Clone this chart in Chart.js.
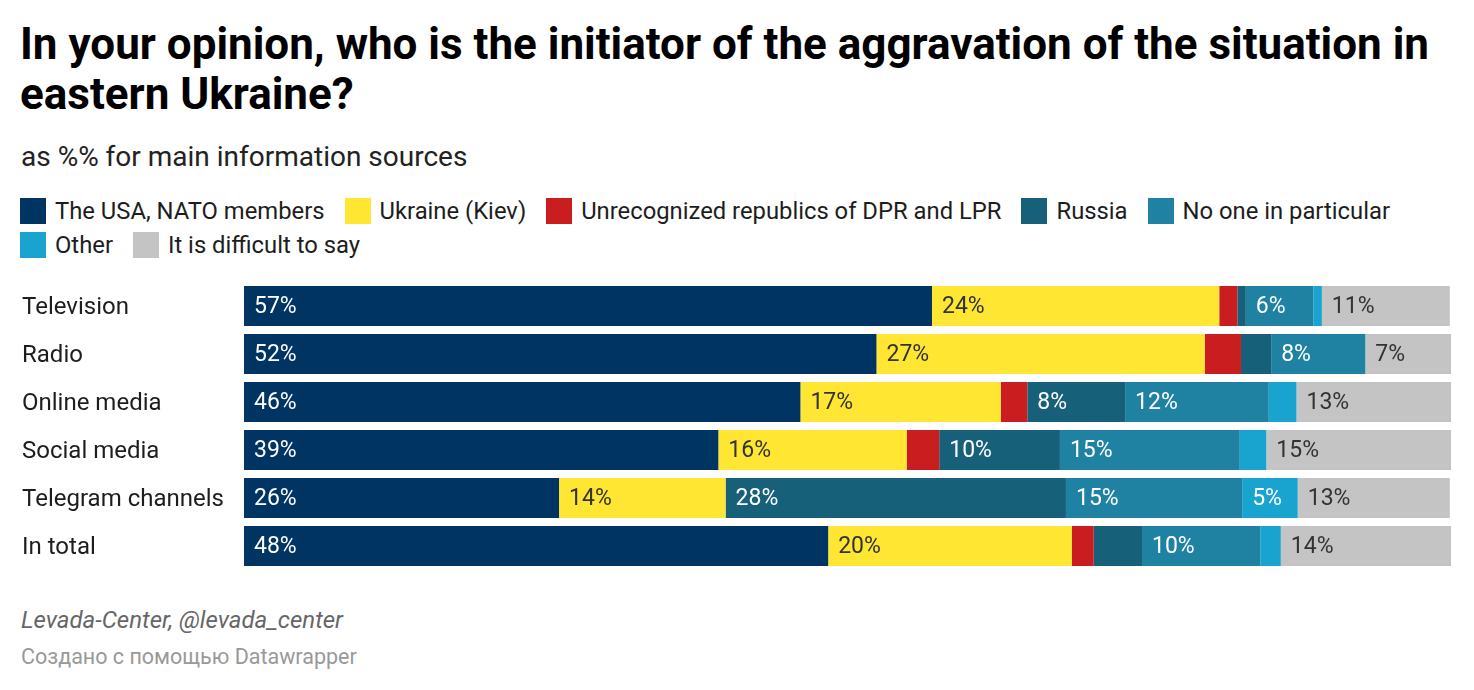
<!DOCTYPE html>
<html>
<head>
    <title>Initiator of the aggravation in eastern Ukraine</title>
    <script src="https://cdn.jsdelivr.net/npm/chart.js"></script>
    <style>
        body { margin: 0; background: #fff; font-family: Roboto, sans-serif; color: #1d1d1d; }
        #wrap { position: relative; width: 1474px; height: 690px; }
        h1 { position: absolute; left: 20px; top: 19px; margin: 0; font-size: 44px; line-height: 50px; font-weight: 700; color: #000; width: 1440px; }
        #sub { position: absolute; left: 21px; top: 140px; font-size: 28px; color: #222; }
        #legend { position: absolute; left: 20px; top: 194px; width: 1420px; font-size: 23.8px; line-height: 34px; }
        .item { display: inline-block; margin-right: 20px; white-space: nowrap; }
        .box { display: inline-block; width: 26px; height: 26px; vertical-align: -5px; margin-right: 9px; }
        #chartBox { position: absolute; left: 0; top: 282px; width: 1474px; height: 288px; }
        #src { position: absolute; left: 21px; top: 606px; font-size: 24px; font-style: italic; color: #666; }
        #made { position: absolute; left: 21px; top: 644px; font-size: 21.5px; color: #999; }
    </style>
</head>
<body>
<div id="wrap">
    <h1>In your opinion, who is the initiator of the aggravation of the situation in eastern Ukraine?</h1>
    <div id="sub">as %% for main information sources</div>
    <div id="legend"></div>
    <div id="chartBox"><canvas id="myChart"></canvas></div>
    <div id="src">Levada-Center, @levada_center</div>
    <div id="made">Создано с помощью Datawrapper</div>
</div>
<script>
    var categories = ['Television', 'Radio', 'Online media', 'Social media', 'Telegram channels', 'In total'];

    var usaNato    = [57.0, 52.4, 46.1, 39.3, 26.1, 48.4];
    var ukraine    = [23.8, 27.2, 16.6, 15.6, 13.8, 20.2];
    var dprLpr     = [1.5, 3.0, 2.2, 2.7, 0, 1.8];
    var russia     = [0.7, 2.5, 8.1, 10.0, 28.2, 4.0];
    var noOne      = [5.6, 7.8, 11.9, 14.9, 14.6, 9.8];
    var other      = [0.7, 0, 2.3, 2.2, 4.6, 1.7];
    var difficult  = [10.6, 7.1, 12.8, 15.4, 12.6, 14.1];

    var seriesNames = ['The USA, NATO members', 'Ukraine (Kiev)', 'Unrecognized republics of DPR and LPR',
                       'Russia', 'No one in particular', 'Other', 'It is difficult to say'];
    var seriesData = [usaNato, ukraine, dprLpr, russia, noOne, other, difficult];
    var colors = ['#003463', '#fee633', '#c91d1f', '#17607a', '#1f82a3', '#19a3cf', '#c4c4c4'];
    var labelColors = ['#fff', '#333', '#fff', '#fff', '#fff', '#fff', '#333'];

    // legend
    var legend = document.getElementById('legend');
    seriesNames.forEach(function(name, i) {
        var el = document.createElement('span');
        el.className = 'item';
        el.innerHTML = '<span class="box" style="background:' + colors[i] + '"></span>' + name;
        legend.appendChild(el);
    });

    // value labels inside the segments
    var segmentLabels = {
        id: 'segmentLabels',
        afterDatasetsDraw: function(chart) {
            var ctx = chart.ctx;
            ctx.save();
            ctx.font = '23px Roboto, sans-serif';
            ctx.textBaseline = 'middle';
            ctx.textAlign = 'left';
            chart.data.datasets.forEach(function(ds, di) {
                chart.getDatasetMeta(di).data.forEach(function(bar, i) {
                    var v = Math.round(ds.data[i]);
                    if (v < 5) return;
                    ctx.fillStyle = labelColors[di];
                    ctx.fillText(v + '%', bar.base + 10, bar.y + 1);
                });
            });
            ctx.restore();
        }
    };

    var ctx = document.getElementById('myChart').getContext('2d');
    var chart = new Chart(ctx, {
        type: 'bar',
        data: {
            labels: categories,
            datasets: seriesData.map(function(d, i) {
                return {
                    label: seriesNames[i],
                    data: d,
                    backgroundColor: colors[i],
                    borderWidth: 0,
                    barPercentage: 1,
                    categoryPercentage: 40 / 48
                };
            })
        },
        options: {
            indexAxis: 'y',
            responsive: true,
            maintainAspectRatio: false,
            animation: false,
            layout: { padding: { left: 22, right: 23, top: 0, bottom: 0 } },
            plugins: { legend: { display: false }, tooltip: { enabled: false } },
            scales: {
                x: { stacked: true, min: 0, max: 100, display: false },
                y: {
                    stacked: true,
                    grid: { display: false },
                    border: { display: false },
                    ticks: {
                        crossAlign: 'far',
                        padding: 0,
                        labelOffset: 2,
                        color: '#1d1d1d',
                        font: { family: 'Roboto, sans-serif', size: 24 }
                    },
                    afterFit: function(scale) {
                        scale.width = 222;
                        scale.paddingTop = 0;
                        scale.paddingBottom = 0;
                    }
                }
            }
        },
        plugins: [segmentLabels]
    });
</script>
</body>
</html>
